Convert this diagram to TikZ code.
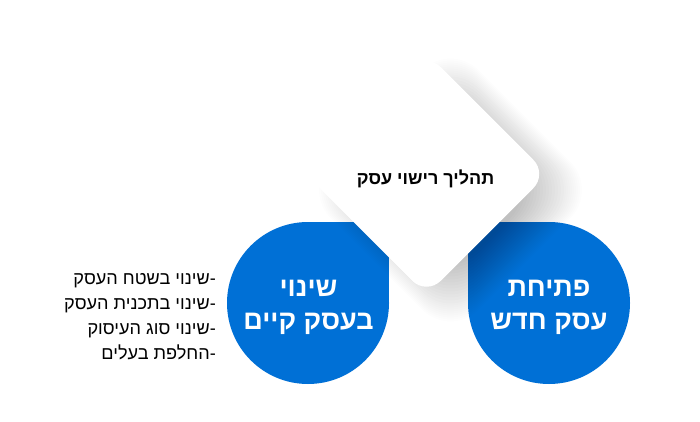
\documentclass[tikz,border=0pt]{standalone}
\usepackage{fontspec}
\setmainfont{Liberation Sans}
\newfontfamily\hebf[Script=Hebrew]{Liberation Sans}
\TeXXeTstate=1
\definecolor{bluefill}{HTML}{0070D6}
\tikzset{
  bluepart/.style={fill=bluefill,draw=none},
  headtext/.style={text=white,font=\hebf\bfseries\fontsize{27}{33}\selectfont,align=center,inner sep=0pt},
  listtext/.style={text=black,font=\hebf\fontsize{18.1}{25}\selectfont,align=right,inner sep=0pt,anchor=east},
  diamondtext/.style={text=black,font=\hebf\bfseries\fontsize{18}{22}\selectfont,inner sep=0pt}
}
\newcommand{\dmnd}{(426.5,53) -- (547.5,174) -- (426.5,295) -- (305.5,174) -- cycle}
\begin{document}
\begin{tikzpicture}[x=1pt,y=-1pt]
\useasboundingbox (0,0) rectangle (700,422);
\fill[white] (0,0) rectangle (700,422);
% blue shapes
\fill[bluepart] (308,303) circle[radius=81pt];
\fill[bluepart] (308,222) rectangle (389,303);
\fill[bluepart] (549,303) circle[radius=81pt];
\fill[bluepart] (468,222) rectangle (549,303);
% soft shadow
\foreach \h in {88,91,...,130}{
  \path[fill=black,fill opacity=0.013,rounded corners=40pt]
    (450.5,190-\h) -- (450.5+\h,190) -- (450.5,190+\h) -- (450.5-\h,190) -- cycle;
}
\foreach \h in {132,134,...,148}{
  \path[fill=black,fill opacity=0.006,rounded corners=40pt]
    (450.5,190-\h) -- (450.5+\h,190) -- (450.5,190+\h) -- (450.5-\h,190) -- cycle;
}
% diamond
\path[fill=white,rounded corners=20pt] \dmnd;
\node[diamondtext] (title) at (425.5,179) {\beginR תהליך רישוי עסק\endR};
\node[headtext] (left) at (308.5,307.5) {\beginR שינוי\endR\\\beginR בעסק קיים\endR};
\node[headtext] (right) at (549,307.5) {\beginR פתיחת\endR\\\beginR עסק חדש\endR};
\node[listtext] (list) at (216,316.5) {\beginR -שינוי בשטח העסק\endR\\\beginR -שינוי בתכנית העסק\endR\\\beginR -שינוי סוג העיסוק\endR\\\beginR -החלפת בעלים\endR};
\end{tikzpicture}
\end{document}
